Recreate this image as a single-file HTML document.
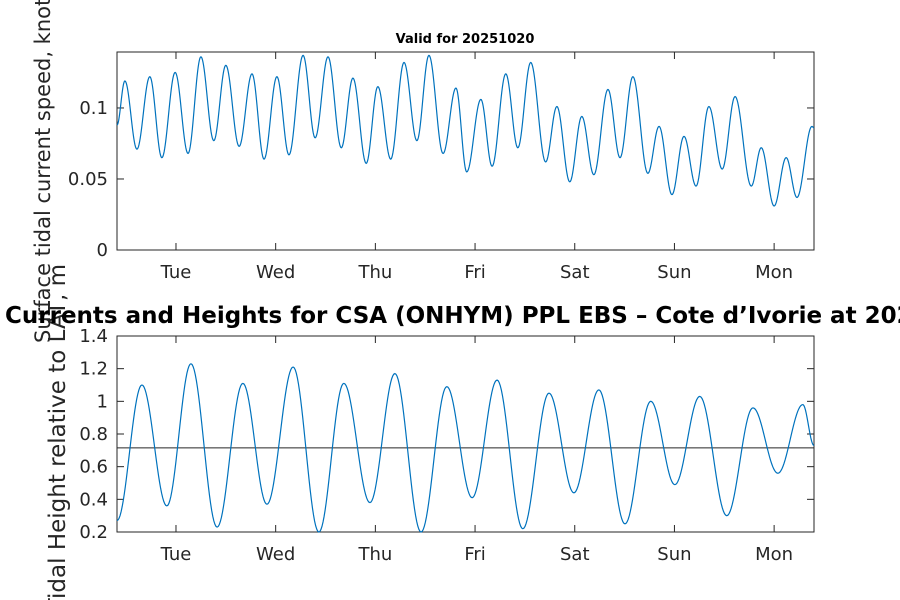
<!DOCTYPE html>
<html><head><meta charset="utf-8"><style>
html,body{margin:0;padding:0;background:#fff;overflow:hidden;}
svg{display:block;font-family:"DejaVu Sans","Liberation Sans",sans-serif;}
</style></head><body>
<svg id="chart" width="900" height="600" viewBox="0 0 900 600">
<rect width="900" height="600" fill="#fff"/>
<g id="top"></g><g id="bot"></g>
<text transform="translate(50,343) rotate(-90)" text-anchor="start" font-size="21" fill="#262626">Surface tidal current speed, knots</text>
<text transform="translate(65,264) rotate(-90)" text-anchor="end" font-size="23" fill="#262626">Tidal Height relative to LAT, m</text>
<text x="465" y="43" text-anchor="middle" font-size="13" font-weight="bold" fill="#000">Valid for 20251020</text>
<text x="5" y="323" text-anchor="start" font-size="23" font-weight="bold" fill="#000">Currents and Heights for CSA (ONHYM) PPL EBS  – Cote d’Ivorie at 20251020</text>
</svg>
<script>
const dayLabels=["Tue","Wed","Thu","Fri","Sat","Sun","Mon"];
const dayTickHours=[14.2,38.2,62.2,86.2,110.2,134.2,158.2];
const speedHours=[0,1.9,4.8,7.9,10.8,14.0,17.1,20.2,23.3,26.2,29.4,32.5,35.4,38.5,41.4,44.8,47.7,50.8,54.0,56.8,60.0,62.8,65.9,69.1,72.2,75.1,78.5,81.6,84.2,87.6,90.3,93.6,96.5,99.6,103.2,105.9,109.0,111.9,114.8,118.2,121.1,124.2,127.8,130.5,133.6,136.5,139.4,142.5,145.7,148.8,152.7,155.1,158.2,161.1,163.7,167.3,167.8];
const speedValues=[.088,.119,.071,.122,.065,.125,.068,.136,.077,.130,.073,.124,.064,.122,.067,.137,.079,.136,.072,.121,.061,.115,.064,.132,.077,.137,.068,.114,.055,.106,.059,.124,.072,.132,.062,.101,.048,.094,.053,.113,.065,.122,.054,.087,.039,.080,.045,.101,.057,.108,.045,.072,.031,.065,.037,.087,.086];
const heightHours=[0,6.0,12.0,17.8,24.1,30.3,36.1,42.4,48.6,54.6,60.9,66.9,73.2,79.4,85.5,91.5,97.7,104.0,110.0,116.0,122.3,128.5,134.3,140.3,146.8,153.1,159.1,165.1,167.8];
const heightValues=[0.27,1.10,0.36,1.23,0.23,1.11,0.37,1.21,0.20,1.11,0.38,1.17,0.20,1.09,0.41,1.13,0.22,1.05,0.44,1.07,0.25,1.00,0.49,1.03,0.30,0.96,0.56,0.98,0.73];
const meanLevel=[0.715];
const speedTicks=[0,0.05,0.1];
const speedTickLabels=["0","0.05","0.1"];
const heightTicks=[0.2,0.4,0.6,0.8,1.0,1.2,1.4];
const heightTickLabels=["0.2","0.4","0.6","0.8","1","1.2","1.4"];

const NS="http://www.w3.org/2000/svg";
const X0=117,X1=814,H0=0,H1=167.8;
const xs=h=>X0+(h-H0)/(H1-H0)*(X1-X0);
function mk(p,tag,at){const e=document.createElementNS(NS,tag);for(const k in at)e.setAttribute(k,at[k]);p.appendChild(e);return e;}
function curve(hours,vals,ys){
  let d="";
  for(let i=0;i<hours.length-1;i++){
    const n=24;
    for(let j=(i?1:0);j<=n;j++){
      const f=j/n,h=hours[i]+(hours[i+1]-hours[i])*f;
      const v=vals[i]+(vals[i+1]-vals[i])*(1-Math.cos(Math.PI*f))/2;
      d+=(d?"L":"M")+xs(h).toFixed(2)+","+ys(v).toFixed(2);
    }
  }
  return d;
}
function axes(g,Y0,Y1,vmin,vmax,ticks,labels,prefix){
  const ys=v=>Y1-(v-vmin)/(vmax-vmin)*(Y1-Y0);
  const box=mk(g,"rect",{x:X0,y:Y0,width:X1-X0,height:Y1-Y0,fill:"#fff",stroke:"#262626","stroke-width":1});
  
  
  dayTickHours.forEach((h,i)=>{
    const x=xs(h);
    mk(g,"line",{x1:x,x2:x,y1:Y1,y2:Y1-7,stroke:"#262626"});
    mk(g,"line",{x1:x,x2:x,y1:Y0,y2:Y0+7,stroke:"#262626"});
    const t=mk(g,"text",{x:x,y:Y1+28,"text-anchor":"middle","font-size":18,fill:"#262626"});
    t.textContent=dayLabels[i];
    
    
  });
  ticks.forEach((v,i)=>{
    const y=ys(v);
    mk(g,"line",{x1:X0,x2:X0+7,y1:y,y2:y,stroke:"#262626"});
    mk(g,"line",{x1:X1,x2:X1-7,y1:y,y2:y,stroke:"#262626"});
    const t=mk(g,"text",{x:X0-9,y:y+6,"text-anchor":"end","font-size":18,fill:"#262626"});
    t.textContent=labels[i];
    
    
  });
  return ys;
}
const gt=document.getElementById("top"),gb=document.getElementById("bot");
const yt=axes(gt,52,250,0,0.1394,speedTicks,speedTickLabels,"top");
const p1=mk(gt,"path",{d:curve(speedHours,speedValues,yt),fill:"none",stroke:"#0072BD","stroke-width":1.2});


const yb=axes(gb,336,532,0.2,1.4,heightTicks,heightTickLabels,"bottom");
const ml=mk(gb,"line",{x1:X0,x2:X1,y1:yb(meanLevel[0]),y2:yb(meanLevel[0]),stroke:"#262626","stroke-width":1});


const p2=mk(gb,"path",{d:curve(heightHours,heightValues,yb),fill:"none",stroke:"#0072BD","stroke-width":1.2});


</script>
</body></html>
